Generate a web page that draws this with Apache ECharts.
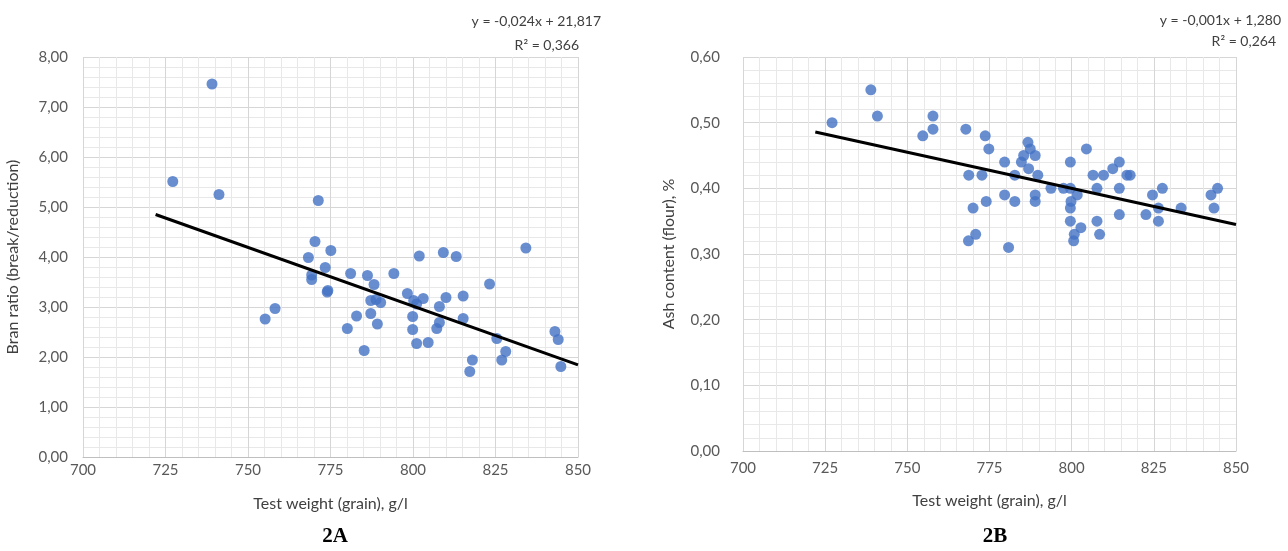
<!DOCTYPE html>
<html>
<head>
<meta charset="utf-8">
<title>Test weight vs bran ratio and ash content</title>
<script src="https://cdn.jsdelivr.net/npm/echarts@6/dist/echarts.min.js"></script>
<style>
  html, body { margin: 0; padding: 0; background: #ffffff; }
  #chart { width: 1288px; height: 551px; }
</style>
</head>
<body>
<div id="chart"></div>
<script>
// Panel 2A: test weight (g/l) against bran ratio (break/reduction)
const branWeight = [727.2, 739.1, 741.2, 755.2, 758.2, 768.3, 769.3, 769.3, 770.3, 771.3,
  773.4, 774.0, 774.2, 775.1, 780.1, 781.1, 782.9, 785.2, 786.2, 787.2,
  787.2, 788.2, 788.8, 789.2, 790.2, 794.2, 798.3, 799.9, 799.9, 800.2,
  801.1, 801.1, 801.9, 803.1, 804.6, 807.2, 808.0, 808.0, 809.2, 810.0,
  813.1, 815.2, 815.2, 817.2, 818.0, 823.2, 825.4, 826.9, 828.1, 834.2,
  843.0, 844.0, 844.8];
const branRatio = [5.51, 7.46, 5.25, 2.76, 2.97, 3.99, 3.64, 3.55, 4.31, 5.13,
  3.79, 3.30, 3.33, 4.13, 2.57, 3.67, 2.82, 2.13, 3.63, 3.13,
  2.87, 3.45, 3.15, 2.66, 3.09, 3.67, 3.27, 2.81, 2.55, 3.13,
  3.06, 2.27, 4.02, 3.17, 2.29, 2.57, 3.01, 2.69, 4.09, 3.19,
  4.01, 3.22, 2.77, 1.71, 1.94, 3.46, 2.37, 1.94, 2.11, 4.18,
  2.51, 2.35, 1.81];

// Panel 2B: test weight (g/l) against ash content of flour (%)
const ashWeight = [727.1, 738.9, 740.9, 754.7, 757.8, 757.8, 767.8, 768.7, 768.6, 770.0,
  770.8, 772.7, 773.7, 774.8, 774.0, 779.6, 779.6, 780.8, 782.7, 782.7,
  784.7, 785.4, 786.7, 787.4, 786.9, 788.9, 789.7, 788.9, 788.9, 793.7,
  797.5, 799.6, 799.6, 801.7, 799.8, 799.6, 799.6, 802.8, 800.8, 800.6,
  804.5, 806.5, 809.7, 807.7, 807.7, 808.5, 812.5, 814.5, 814.5, 814.5,
  816.8, 817.8, 822.6, 824.6, 827.6, 826.4, 826.4, 833.3, 842.4, 844.4,
  843.3];
const ashContent = [0.50, 0.55, 0.51, 0.48, 0.51, 0.49, 0.49, 0.42, 0.32, 0.37,
  0.33, 0.42, 0.48, 0.46, 0.38, 0.44, 0.39, 0.31, 0.42, 0.38,
  0.44, 0.45, 0.47, 0.46, 0.43, 0.45, 0.42, 0.39, 0.38, 0.40,
  0.40, 0.44, 0.40, 0.39, 0.38, 0.37, 0.35, 0.34, 0.33, 0.32,
  0.46, 0.42, 0.42, 0.40, 0.35, 0.33, 0.43, 0.44, 0.40, 0.36,
  0.42, 0.42, 0.36, 0.39, 0.40, 0.37, 0.35, 0.37, 0.39, 0.40,
  0.37];

// Linear trend lines (slope, intercept) and the x-range they span
const branTrend = [-0.0235, 21.817];
const ashTrend = [-0.0011, 1.280];
const trendRange = [722, 850];

// Labels
const branEquation = ['y = -0,024x + 21,817', 'R\u00b2 = 0,366'];
const ashEquation = ['y = -0,001x + 1,280', 'R\u00b2 = 0,264'];
const panelTags = ['2A', '2B'];
const xName = 'Test weight (grain), g/l';
const branName = 'Bran ratio (break/reduction)';
const ashName = 'Ash content (flour), %';

const zip = (xs, ys) => xs.map((x, i) => [x, ys[i]]);
const trendPoints = (c) => trendRange.map(x => [x, c[0] * x + c[1]]);
const comma = (d) => (v) => v.toFixed(d).replace('.', ',');

const FONT = 'Lato, "Open Sans", sans-serif';
const TICK = '#595959';
const BLUE = '#4472c4';

function xAxisFor(gridIndex, gap, margin) {
  return {
    gridIndex, type: 'value', min: 700, max: 850, interval: 25,
    name: xName, nameLocation: 'middle', nameGap: gap,
    nameTextStyle: { fontFamily: FONT, fontSize: 16, color: '#404040' },
    axisLine: { show: true, lineStyle: { color: '#bfbfbf', width: 1 } },
    axisTick: { show: false },
    axisLabel: { color: TICK, fontFamily: FONT, fontSize: 15, margin },
    splitLine: { show: true, lineStyle: { color: '#d6d6d6', width: 1 } },
    minorTick: { show: false, splitNumber: 5 },
    minorSplitLine: { show: true, lineStyle: { color: '#e8e8e8', width: 1 } }
  };
}

function yAxisFor(gridIndex, max, interval, digits, name, gap, margin) {
  return {
    gridIndex, type: 'value', min: 0, max, interval,
    name, nameLocation: 'middle', nameGap: gap,
    nameTextStyle: { fontFamily: FONT, fontSize: 16, color: '#404040' },
    axisLine: { show: false },
    axisTick: { show: false },
    axisLabel: { color: TICK, fontFamily: FONT, fontSize: 15, margin, formatter: comma(digits) },
    splitLine: { show: true, lineStyle: { color: '#d6d6d6', width: 1 } },
    minorTick: { show: false, splitNumber: 5 },
    minorSplitLine: { show: true, lineStyle: { color: '#e8e8e8', width: 1 } }
  };
}

// Trendline equation block: equation on top, R² underneath
function eqTitle(lines, right, top, shift, lineGap) {
  const style = { fontFamily: FONT, fontSize: 14, fontWeight: 'normal', color: '#404040' };
  return [
    { text: lines[0], right, top, textStyle: style },
    { text: lines[1], right: right + shift, top: top + lineGap, textStyle: style }
  ];
}

const chart = echarts.init(document.getElementById('chart'), null, { renderer: 'canvas' });
chart.setOption({
  backgroundColor: '#ffffff',
  animation: false,
  title: [
    ...eqTitle(branEquation, 1288 - 606, 9, 22, 24),
    ...eqTitle(ashEquation, 2, 8, 5, 21),
    { text: panelTags[0], left: 330, top: 521, textAlign: 'center',
      textStyle: { fontFamily: '"Liberation Serif", serif', fontSize: 21, fontWeight: 'bold', color: '#000' } },
    { text: panelTags[1], left: 990, top: 521, textAlign: 'center',
      textStyle: { fontFamily: '"Liberation Serif", serif', fontSize: 21, fontWeight: 'bold', color: '#000' } }
  ],
  grid: [
    { left: 83, top: 57, width: 495, height: 400 },
    { left: 743, top: 57, width: 493, height: 394 }
  ],
  xAxis: [xAxisFor(0, 39, 6), xAxisFor(1, 42, 10)],
  yAxis: [
    yAxisFor(0, 8, 1, 2, branName, 62, 15),
    yAxisFor(1, 0.6, 0.1, 2, ashName, 66, 23)
  ],
  series: [
    { type: 'line', xAxisIndex: 0, yAxisIndex: 0, data: trendPoints(branTrend),
      symbol: 'none', lineStyle: { color: '#000', width: 3 }, z: 3 },
    { type: 'scatter', xAxisIndex: 0, yAxisIndex: 0, data: zip(branWeight, branRatio),
      symbol: 'circle', symbolSize: 11, itemStyle: { color: BLUE }, z: 2 },
    { type: 'line', xAxisIndex: 1, yAxisIndex: 1, data: trendPoints(ashTrend),
      symbol: 'none', lineStyle: { color: '#000', width: 3 }, z: 3 },
    { type: 'scatter', xAxisIndex: 1, yAxisIndex: 1, data: zip(ashWeight, ashContent),
      symbol: 'circle', symbolSize: 11, itemStyle: { color: BLUE }, z: 2 }
  ]
});
</script>
</body>
</html>
